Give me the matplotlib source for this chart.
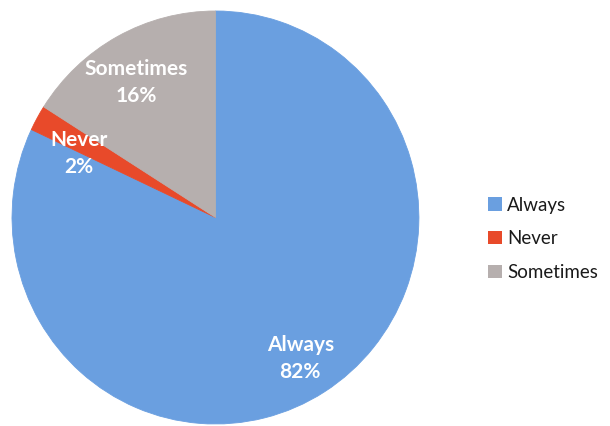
import numpy as np
import matplotlib.pyplot as plt
from matplotlib.patches import Patch

# survey answers
categories = ['Always', 'Never', 'Sometimes']
shares = [82, 2, 16]
colors = ['#6a9fe0', '#e84a2a', '#b6afae']

# radial position of each data label (fraction of radius)
label_r = [0.80, 0.74, 0.76]
label_shift = [-1, 4, 2]  # degrees, nudging labels like the original

plt.rcParams['font.family'] = ['Lato', 'DejaVu Sans']

fig = plt.figure(figsize=(6.1, 4.26), dpi=100)
# the scanned pie is a touch taller than wide
ax = fig.add_axes([0.0197, 0.0047, 0.667, 0.9695])

# clockwise from 12 o'clock: Always, Never, Sometimes
wedges, _ = ax.pie(shares, colors=colors, startangle=90, counterclock=False,
                   wedgeprops=dict(linewidth=0.6))
for w, c in zip(wedges, colors):
    w.set_edgecolor(c)

for w, name, v, r, sh in zip(wedges, categories, shares, label_r, label_shift):
    mid = np.deg2rad((w.theta1 + w.theta2) / 2 + sh)
    ax.text(r * np.cos(mid), r * np.sin(mid), f'{name}\n{v}%',
            ha='center', va='center', color='white', fontsize=15,
            fontweight='bold', linespacing=1.45)

ax.set_xlim(-1, 1)
ax.set_ylim(-1, 1)
ax.set_aspect('auto')

handles = [Patch(facecolor=c, edgecolor='none') for c in colors]
fig.legend(handles, categories, loc='center left', bbox_to_anchor=(0.773, 0.439),
           frameon=False, fontsize=13.5, handlelength=0.7, handleheight=0.7,
           handletextpad=0.3, labelspacing=0.9, labelcolor='#1a1a1a')

fig.savefig('out.png', dpi=100)
